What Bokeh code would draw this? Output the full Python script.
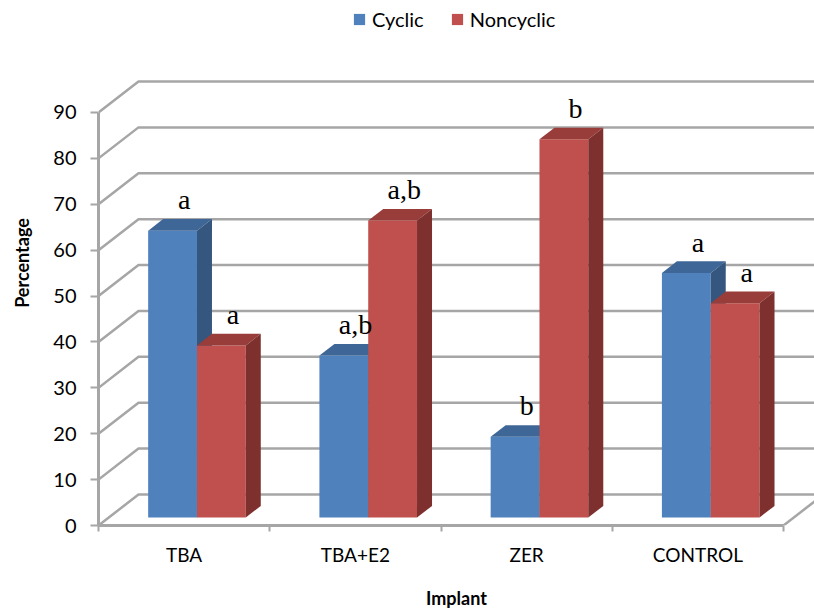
import numpy as np
from bokeh.plotting import figure
from bokeh.models import Range1d, FixedTicker, Legend, LegendItem, ColumnDataSource
from bokeh.core.properties import value
from bokeh.embed import file_html
from bokeh.resources import INLINE

# ---------------- data ----------------
categories = ["TBA", "TBA+E2", "ZER", "CONTROL"]
cyclic = [62.5, 35.3, 17.6, 53.3]
noncyclic = [37.5, 64.7, 82.4, 46.7]
cyclic_sig = ["a", "a,b", "b", "a"]
noncyclic_sig = ["a", "a,b", "b", "a"]
y_ticks = [0, 10, 20, 30, 40, 50, 60, 70, 80, 90]

# ---------------- geometry (in data units) ----------------
PX_X = 171.25      # px per category
PX_Y = 4.589       # px per percent
W, H = 814, 614
FRAME_W, FRAME_H = 716, 525
wall_dx = 40 / PX_X     # depth shift of back wall
wall_dy = 31 / PX_Y
bar_dx = 15 / PX_X      # bar depth
bar_dy = 11.6 / PX_Y
base = 8 / PX_Y         # bar front plane raise
off_l, off_m, off_r = 0.29, 0.575, 0.86

GRID = "#a6a6a6"
FONT = "Lato"

p = figure(width=W, height=H, output_backend="svg", toolbar_location=None,
           x_range=Range1d(0, FRAME_W / PX_X), y_range=Range1d(0, FRAME_H / PX_Y),
           min_border_left=98, min_border_right=0, min_border_top=0, min_border_bottom=89)
p.outline_line_color = None
p.xgrid.visible = False
p.ygrid.visible = False
p.background_fill_color = "white"

x_end = FRAME_W / PX_X
n = len(categories)

# walls / grid lines
for v in y_ticks:
    p.line([0, wall_dx, x_end], [v, v + wall_dy, v + wall_dy], line_color=GRID, line_width=2.5)
# right floor edge
p.line([n, n + wall_dx], [0, wall_dy], line_color=GRID, line_width=2.5)

def draw_series(vals, offs_l, offs_r, c_front, c_top, c_side):
    xl = np.arange(n) + offs_l
    xr = np.arange(n) + offs_r
    top = base + np.array(vals)
    r = p.quad(left=xl, right=xr, bottom=base, top=top, fill_color=c_front, line_color=None)
    tops_x = [[a, b, b + bar_dx, a + bar_dx] for a, b in zip(xl, xr)]
    tops_y = [[t, t, t + bar_dy, t + bar_dy] for t in top]
    p.patches(tops_x, tops_y, fill_color=c_top, line_color=None)
    side_x = [[b, b + bar_dx, b + bar_dx, b] for b in xr]
    side_y = [[base, base + bar_dy, t + bar_dy, t] for t in top]
    p.patches(side_x, side_y, fill_color=c_side, line_color=None)
    return r, (xl + xr) / 2, top

r1, cx1, t1 = draw_series(cyclic, off_l, off_m, "#4f81bd", "#3e6797", "#35567e")
r2, cx2, t2 = draw_series(noncyclic, off_m, off_r, "#c0504d", "#983d3a", "#7e302e")

# significance letters
lab = ColumnDataSource(dict(
    x=list(cx1 + 0.068) + list(cx2 + 0.068),
    y=list(t1 + bar_dy + 4.2) + list(t2 + bar_dy + 4.2),
    t=cyclic_sig + noncyclic_sig))
p.text(x="x", y="y", text="t", source=lab, text_align="center", text_baseline="alphabetic",
       text_font=value("Liberation Serif"), text_font_size="28px", text_color="black")

# axes
ya = p.yaxis[0]
ya.ticker = FixedTicker(ticks=y_ticks, minor_ticks=[])
ya.bounds = (0, 90)
ya.axis_line_color = GRID
ya.axis_line_width = 3
ya.major_tick_line_color = GRID
ya.major_tick_line_width = 2
ya.major_tick_out = 8
ya.major_tick_in = 0
ya.minor_tick_line_color = None
ya.major_label_standoff = 14
ya.major_label_text_font = FONT
ya.major_label_text_font_size = "20px"
ya.major_label_text_color = "black"
ya.axis_label = "Percentage"
ya.axis_label_text_font = FONT
ya.axis_label_text_font_size = "18px"
ya.axis_label_text_font_style = "bold"
ya.axis_label_text_color = "black"
ya.axis_label_standoff = 17

xa = p.xaxis[0]
centers = [i + 0.5 for i in range(n)]
xa.ticker = FixedTicker(ticks=centers, minor_ticks=list(range(n + 1)))
xa.major_label_overrides = {c: name for c, name in zip(centers, categories)}
xa.bounds = (0, n)
xa.axis_line_color = GRID
xa.axis_line_width = 3
xa.major_tick_line_color = None
xa.major_tick_out = 0
xa.major_tick_in = 0
xa.minor_tick_line_color = GRID
xa.minor_tick_line_width = 2
xa.minor_tick_out = 6
xa.minor_tick_in = 0
xa.major_label_standoff = 11
xa.major_label_text_font = FONT
xa.major_label_text_font_size = "19px"
xa.major_label_text_color = "black"
xa.axis_label = "Implant"
xa.axis_label_text_font = FONT
xa.axis_label_text_font_size = "18px"
xa.axis_label_text_font_style = "bold"
xa.axis_label_text_color = "black"
xa.axis_label_standoff = 18

legend = Legend(items=[LegendItem(label="Cyclic", renderers=[r1]),
                       LegendItem(label="Noncyclic", renderers=[r2])],
                orientation="horizontal", location=(254, 494),
                glyph_width=14, glyph_height=14, label_standoff=6, spacing=26,
                padding=0, margin=0, border_line_color=None, background_fill_alpha=0,
                label_text_font=FONT, label_text_font_size="20px", label_text_color="black")
p.add_layout(legend, "center")

open("out.html", "w").write(file_html(p, INLINE))
